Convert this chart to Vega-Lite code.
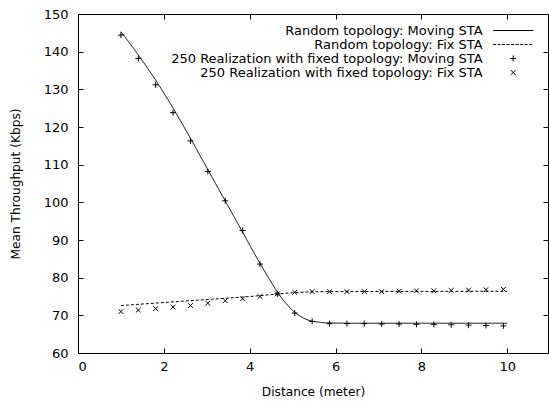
{
  "$schema": "https://vega.github.io/schema/vega-lite/v6.json",
  "autosize": {"type": "none"},
  "padding": {"left": 78, "top": 14, "right": 1, "bottom": 50},
  "width": 470,
  "height": 339,
  "background": "white",
  "config": {
    "font": "DejaVu Sans",
    "view": {"stroke": "black", "strokeWidth": 1},
    "axis": {
      "grid": false, "domain": false, "tickColor": "black", "tickWidth": 1,
      "labelColor": "black", "labelFontSize": 13, "titleColor": "black",
      "titleFontSize": 12.2, "titleFontWeight": "normal", "labelFont": "DejaVu Sans", "titleFont": "DejaVu Sans"
    },
    "legend": {
      "orient": "none", "legendX": 428.7, "legendY": 10, "direction": "vertical",
      "title": null, "labelAlign": "right", "labelBaseline": "middle", "labelOffset": -37,
      "labelFontSize": 13, "labelFont": "DejaVu Sans", "labelColor": "black",
      "labelLimit": 500, "symbolSize": 36, "symbolStrokeWidth": 1,
      "symbolStrokeColor": "black", "symbolFillColor": "transparent",
      "rowPadding": 0, "padding": 0
    }
  },
  "datasets": {
    "curves": [
      {"series": "Random topology: Moving STA", "x": 1.0, "y": 145.3},
      {"series": "Random topology: Moving STA", "x": 1.4, "y": 139.2},
      {"series": "Random topology: Moving STA", "x": 1.8, "y": 132.6},
      {"series": "Random topology: Moving STA", "x": 2.2, "y": 125.3},
      {"series": "Random topology: Moving STA", "x": 2.6, "y": 117.4},
      {"series": "Random topology: Moving STA", "x": 3.0, "y": 109.2},
      {"series": "Random topology: Moving STA", "x": 3.4, "y": 101.0},
      {"series": "Random topology: Moving STA", "x": 3.8, "y": 92.8},
      {"series": "Random topology: Moving STA", "x": 4.2, "y": 84.6},
      {"series": "Random topology: Moving STA", "x": 4.4, "y": 80.7},
      {"series": "Random topology: Moving STA", "x": 4.6, "y": 77.0},
      {"series": "Random topology: Moving STA", "x": 4.8, "y": 73.8},
      {"series": "Random topology: Moving STA", "x": 5.0, "y": 71.3},
      {"series": "Random topology: Moving STA", "x": 5.2, "y": 69.6},
      {"series": "Random topology: Moving STA", "x": 5.4, "y": 68.6},
      {"series": "Random topology: Moving STA", "x": 5.6, "y": 68.2},
      {"series": "Random topology: Moving STA", "x": 5.8, "y": 68.0},
      {"series": "Random topology: Moving STA", "x": 6.5, "y": 67.9},
      {"series": "Random topology: Moving STA", "x": 8.0, "y": 67.9},
      {"series": "Random topology: Moving STA", "x": 10.0, "y": 67.9},
      {"series": "Random topology: Fix STA", "x": 1.0, "y": 72.6},
      {"series": "Random topology: Fix STA", "x": 2.0, "y": 73.4},
      {"series": "Random topology: Fix STA", "x": 3.0, "y": 74.2},
      {"series": "Random topology: Fix STA", "x": 4.0, "y": 75.0},
      {"series": "Random topology: Fix STA", "x": 4.5, "y": 75.5},
      {"series": "Random topology: Fix STA", "x": 5.0, "y": 76.0},
      {"series": "Random topology: Fix STA", "x": 5.5, "y": 76.25},
      {"series": "Random topology: Fix STA", "x": 6.0, "y": 76.3},
      {"series": "Random topology: Fix STA", "x": 8.0, "y": 76.35},
      {"series": "Random topology: Fix STA", "x": 10.0, "y": 76.4}
    ],
    "samples": [
      {"series": "250 Realization with fixed topology: Moving STA", "x": 1.0, "y": 144.4},
      {"series": "250 Realization with fixed topology: Moving STA", "x": 1.405, "y": 138.2},
      {"series": "250 Realization with fixed topology: Moving STA", "x": 1.81, "y": 131.2},
      {"series": "250 Realization with fixed topology: Moving STA", "x": 2.215, "y": 123.8},
      {"series": "250 Realization with fixed topology: Moving STA", "x": 2.62, "y": 116.3},
      {"series": "250 Realization with fixed topology: Moving STA", "x": 3.025, "y": 108.2},
      {"series": "250 Realization with fixed topology: Moving STA", "x": 3.43, "y": 100.4},
      {"series": "250 Realization with fixed topology: Moving STA", "x": 3.835, "y": 92.5},
      {"series": "250 Realization with fixed topology: Moving STA", "x": 4.24, "y": 83.6},
      {"series": "250 Realization with fixed topology: Moving STA", "x": 4.645, "y": 75.7},
      {"series": "250 Realization with fixed topology: Moving STA", "x": 5.05, "y": 70.6},
      {"series": "250 Realization with fixed topology: Moving STA", "x": 5.455, "y": 68.4},
      {"series": "250 Realization with fixed topology: Moving STA", "x": 5.86, "y": 67.8},
      {"series": "250 Realization with fixed topology: Moving STA", "x": 6.265, "y": 67.8},
      {"series": "250 Realization with fixed topology: Moving STA", "x": 6.67, "y": 67.8},
      {"series": "250 Realization with fixed topology: Moving STA", "x": 7.075, "y": 67.7},
      {"series": "250 Realization with fixed topology: Moving STA", "x": 7.48, "y": 67.7},
      {"series": "250 Realization with fixed topology: Moving STA", "x": 7.885, "y": 67.6},
      {"series": "250 Realization with fixed topology: Moving STA", "x": 8.29, "y": 67.6},
      {"series": "250 Realization with fixed topology: Moving STA", "x": 8.695, "y": 67.5},
      {"series": "250 Realization with fixed topology: Moving STA", "x": 9.1, "y": 67.4},
      {"series": "250 Realization with fixed topology: Moving STA", "x": 9.505, "y": 67.3},
      {"series": "250 Realization with fixed topology: Moving STA", "x": 9.91, "y": 67.2},
      {"series": "250 Realization with fixed topology: Fix STA", "x": 1.0, "y": 71.0},
      {"series": "250 Realization with fixed topology: Fix STA", "x": 1.405, "y": 71.4},
      {"series": "250 Realization with fixed topology: Fix STA", "x": 1.81, "y": 71.8},
      {"series": "250 Realization with fixed topology: Fix STA", "x": 2.215, "y": 72.2},
      {"series": "250 Realization with fixed topology: Fix STA", "x": 2.62, "y": 72.6},
      {"series": "250 Realization with fixed topology: Fix STA", "x": 3.025, "y": 73.2},
      {"series": "250 Realization with fixed topology: Fix STA", "x": 3.43, "y": 73.9},
      {"series": "250 Realization with fixed topology: Fix STA", "x": 3.835, "y": 74.4},
      {"series": "250 Realization with fixed topology: Fix STA", "x": 4.24, "y": 75.0},
      {"series": "250 Realization with fixed topology: Fix STA", "x": 4.645, "y": 75.7},
      {"series": "250 Realization with fixed topology: Fix STA", "x": 5.05, "y": 76.1},
      {"series": "250 Realization with fixed topology: Fix STA", "x": 5.455, "y": 76.3},
      {"series": "250 Realization with fixed topology: Fix STA", "x": 5.86, "y": 76.3},
      {"series": "250 Realization with fixed topology: Fix STA", "x": 6.265, "y": 76.3},
      {"series": "250 Realization with fixed topology: Fix STA", "x": 6.67, "y": 76.3},
      {"series": "250 Realization with fixed topology: Fix STA", "x": 7.075, "y": 76.3},
      {"series": "250 Realization with fixed topology: Fix STA", "x": 7.48, "y": 76.4},
      {"series": "250 Realization with fixed topology: Fix STA", "x": 7.885, "y": 76.5},
      {"series": "250 Realization with fixed topology: Fix STA", "x": 8.29, "y": 76.5},
      {"series": "250 Realization with fixed topology: Fix STA", "x": 8.695, "y": 76.6},
      {"series": "250 Realization with fixed topology: Fix STA", "x": 9.1, "y": 76.7},
      {"series": "250 Realization with fixed topology: Fix STA", "x": 9.505, "y": 76.8},
      {"series": "250 Realization with fixed topology: Fix STA", "x": 9.91, "y": 76.9}
    ]
  },
  "layer": [
    {
      "data": {"name": "curves"},
      "mark": {"type": "line", "color": "black", "strokeWidth": 1, "interpolate": "monotone", "clip": true},
      "encoding": {
        "x": {"field": "x", "type": "quantitative",
          "scale": {"domain": [0, 10.95], "nice": false, "zero": false},
          "axis": {"orient": "bottom", "values": [0, 2, 4, 6, 8, 10], "tickSize": -5, "labelPadding": 12, "title": "Distance (meter)", "titlePadding": 12}},
        "y": {"field": "y", "type": "quantitative",
          "scale": {"domain": [60, 150], "nice": false, "zero": false},
          "axis": {"orient": "left", "values": [60, 70, 80, 90, 100, 110, 120, 130, 140, 150], "tickSize": -5, "labelPadding": 15, "title": "Mean Throughput (Kbps)", "titlePadding": 21}},
        "strokeDash": {"field": "series", "type": "nominal",
          "scale": {"domain": ["Random topology: Moving STA", "Random topology: Fix STA"], "range": [[1, 0], [3, 2]]},
          "legend": null}
      }
    },
    {
      "data": {"name": "samples"},
      "mark": {"type": "point", "filled": false, "stroke": "black", "strokeWidth": 1, "size": 36, "opacity": 1},
      "encoding": {
        "x": {"field": "x", "type": "quantitative",
          "axis": {"orient": "top", "values": [0, 2, 4, 6, 8, 10], "tickSize": -5, "labels": false, "title": null}},
        "y": {"field": "y", "type": "quantitative",
          "axis": {"orient": "right", "values": [60, 70, 80, 90, 100, 110, 120, 130, 140, 150], "tickSize": -5, "labels": false, "title": null}},
        "shape": {"field": "series", "type": "nominal",
          "scale": {
            "domain": ["Random topology: Moving STA", "Random topology: Fix STA", "250 Realization with fixed topology: Moving STA", "250 Realization with fixed topology: Fix STA"],
            "range": [
              "M-6.7,0H6.7",
              "M-6.7,0H-5.7M-5.2,0H-4.2M-3.7,0H-2.7M-2.2,0H-1.2M-0.7,0H0.3M0.8,0H1.8M2.3,0H3.3M3.8,0H4.8M5.3,0H6.3",
              "M-1,0H1M0,-1V1",
              "M-0.8,-0.8L0.8,0.8M0.8,-0.8L-0.8,0.8"
            ]
          },
          "legend": {}}
      }
    }
  ],
  "resolve": {"axis": {"x": "independent", "y": "independent"}}
}
